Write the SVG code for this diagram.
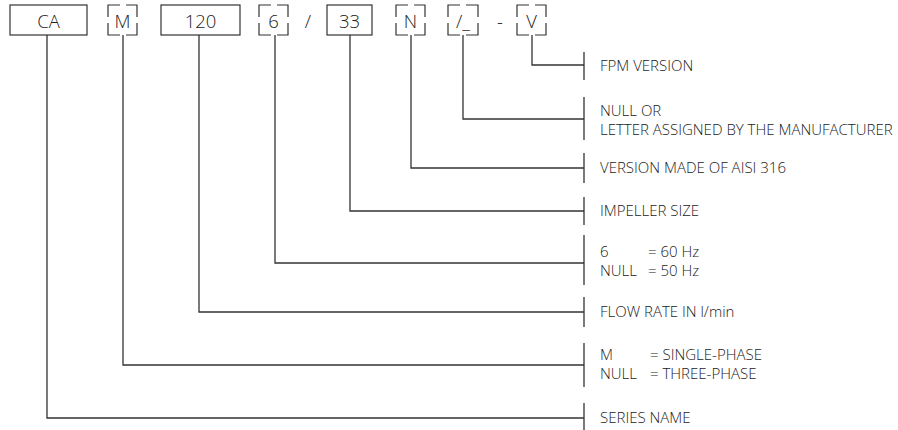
<svg xmlns="http://www.w3.org/2000/svg" width="898" height="430" viewBox="0 0 898 430">
<style>
.bx{fill:none;stroke:#333;stroke-width:1.2}
.ln{fill:none;stroke:#333;stroke-width:1.3}
.lbl{font-family:"Open Sans","Noto Sans",sans-serif;font-weight:300;font-size:18.5px;fill:#222;text-anchor:middle}
.t{font-family:"Open Sans","Noto Sans",sans-serif;font-weight:300;font-size:15px;fill:#222}
</style>
<rect width="898" height="430" fill="#fff"/>
<g id="code">
<g id="n-ca"><rect class="bx" x="10" y="5" width="77" height="30"/><text class="lbl" x="48.5" y="28">CA</text></g>
<g id="n-m"><path class="bx" d="M120,5H108V17M108,23V35H120M126,35H137V23M137,17V5H126"/><text class="lbl" x="122.5" y="28">M</text></g>
<g id="n-120"><rect class="bx" x="161" y="5" width="79" height="30"/><text class="lbl" x="200.5" y="28">120</text></g>
<g id="n-6"><path class="bx" d="M271,5H259V17M259,23V35H271M277,35H288V23M288,17V5H277"/><text class="lbl" x="273.5" y="28">6</text></g>
<text class="lbl" x="308" y="28">/</text>
<g id="n-33"><rect class="bx" x="327" y="5" width="45" height="30"/><text class="lbl" x="349.5" y="28">33</text></g>
<g id="n-n"><path class="bx" d="M408,5H396V17M396,23V35H408M414,35H425V23M425,17V5H414"/><text class="lbl" x="410.5" y="28">N</text></g>
<g id="n-us"><path class="bx" d="M460,5H448V17M448,23V35H460M466,35H478V23M478,17V5H466"/><text class="lbl" x="463" y="28">/_</text></g>
<text class="lbl" x="500" y="28">-</text>
<g id="n-v"><path class="bx" d="M529,5H517V17M517,23V35H529M535,35H546V23M546,17V5H535"/><text class="lbl" x="531.5" y="28">V</text></g>
</g>
<g id="connectors">
<path class="ln" d="M532,35V65H584"/>
<path class="ln" d="M463,35V119H584"/>
<path class="ln" d="M411,35V168H584"/>
<path class="ln" d="M350,35V211H584"/>
<path class="ln" d="M275,35V263H584"/>
<path class="ln" d="M199,35V312H584"/>
<path class="ln" d="M123,35V365H584"/>
<path class="ln" d="M47,35V418H584"/>
<path class="ln" d="M584,52V80M584,97V140M584,153V183M584,197V225M584,235V285M584,297V327M584,343V387M584,403V430"/>
</g>
<g id="descriptions">
<text class="t" x="600" y="71">FPM VERSION</text>
<text class="t" x="600" y="116">NULL OR</text>
<text class="t" x="600" y="135">LETTER ASSIGNED BY THE MANUFACTURER</text>
<text class="t" x="600" y="173">VERSION MADE OF AISI 316</text>
<text class="t" x="600" y="216">IMPELLER SIZE</text>
<text class="t" x="600" y="257">6<tspan x="648">= 60 Hz</tspan></text>
<text class="t" x="600" y="276">NULL<tspan x="648">= 50 Hz</tspan></text>
<text class="t" x="600" y="317">FLOW RATE IN l/min</text>
<text class="t" x="600" y="360">M<tspan x="650">= SINGLE-PHASE</tspan></text>
<text class="t" x="600" y="379">NULL<tspan x="650">= THREE-PHASE</tspan></text>
<text class="t" x="600" y="423">SERIES NAME</text>
</g>
</svg>
